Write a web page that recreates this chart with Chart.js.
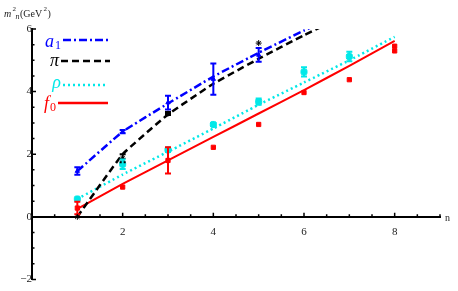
<!DOCTYPE html>
<html>
<head>
<meta charset="utf-8">
<script src="https://cdn.jsdelivr.net/npm/chart.js@4.4.1/dist/chart.umd.min.js"></script>
<style>
  html, body { margin: 0; padding: 0; background: #fff; }
  #wrap { width: 458px; height: 291px; }
</style>
</head>
<body>
<div id="wrap"><canvas id="myChart" width="458" height="291"></canvas></div>
<script>
// curves (theory lines), sampled at n = 1, 2, ...
const lineN = [1, 2, 3, 4, 5, 6, 7, 8];
const a1Line = [1.46, 2.72, 3.62, 4.48, 5.24, 5.95, 6.6];
const piLine = [0, 2.0, 3.27, 4.25, 5.05, 5.8, 6.5];
const rhoLine = [0.57, 1.35, 2.08, 2.82, 3.58, 4.29, 5.0, 5.75];
const f0Line = [0.25, 1.05, 1.8, 2.55, 3.3, 4.05, 4.82, 5.62];

// data points with errors
const a1N = [1, 2, 3, 4, 5];
const a1Y = [1.46, 2.72, 3.65, 4.4, 5.17];
const a1Err = [0.12, 0.05, 0.22, 0.5, 0.22];

const piN = [1, 2, 3, 5];
const piY = [0, 1.87, 3.3, 5.55];
const piErr = [0, 0.13, 0.05, 0];

const rhoN = [1, 2, 3, 4, 5, 6, 7];
const rhoY = [0.57, 1.68, 2.14, 2.95, 3.68, 4.63, 5.12];
const rhoErr = [0, 0.15, 0.07, 0.05, 0.1, 0.15, 0.15];

const f0N = [1, 2, 3, 4, 5, 6, 7, 8, 8];
const f0Y = [0.28, 0.95, 1.8, 2.22, 2.95, 3.97, 4.38, 5.3, 5.45];
const f0Err = [0.2, 0, 0.42, 0, 0, 0, 0, 0, 0];

const yTicks = [-2, 0, 2, 4, 6];
const xTicks = [2, 4, 6, 8];

const BLUE = "#0000ff", BLACK = "#000000", CYAN = "#00e8e8", RED = "#ff0000";

function pts(xs, ys) {
  const out = [];
  for (let i = 0; i < ys.length; i++) out.push({ x: xs[i], y: ys[i] });
  return out;
}

const errorBars = {
  id: "errorBars",
  afterDatasetsDraw(chart) {
    const ctx = chart.ctx, xs = chart.scales.x, ys = chart.scales.y;
    const sets = [[a1N, a1Y, a1Err, BLUE], [piN, piY, piErr, BLACK], [rhoN, rhoY, rhoErr, CYAN], [f0N, f0Y, f0Err, RED]];
    ctx.save();
    ctx.lineWidth = 2;
    sets.forEach(([n, y, e, c]) => {
      ctx.strokeStyle = c;
      for (let i = 0; i < n.length; i++) {
        if (!e[i]) continue;
        const px = xs.getPixelForValue(n[i]);
        const top = ys.getPixelForValue(y[i] + e[i]);
        const bot = ys.getPixelForValue(y[i] - e[i]);
        ctx.beginPath();
        ctx.moveTo(px, top); ctx.lineTo(px, bot);
        ctx.moveTo(px - 3, top); ctx.lineTo(px + 3, top);
        ctx.moveTo(px - 3, bot); ctx.lineTo(px + 3, bot);
        ctx.stroke();
      }
    });
    ctx.restore();
  }
};

const axesDeco = {
  id: "axesDeco",
  afterDraw(chart) {
    const ctx = chart.ctx, xs = chart.scales.x, ys = chart.scales.y;
    const x0 = xs.getPixelForValue(0), y0 = ys.getPixelForValue(0);
    ctx.save();
    ctx.strokeStyle = "#000";
    ctx.lineWidth = 1.5;
    ctx.beginPath();
    for (let v = -2; v <= 6.001; v += 0.5) {
      const p = ys.getPixelForValue(v);
      const len = Math.abs(v % 2) < 0.01 ? 4 : 2.5;
      ctx.moveTo(x0, p); ctx.lineTo(x0 + len, p);
    }
    for (let v = 0.5; v <= 9.001; v += 0.5) {
      const p = xs.getPixelForValue(v);
      const len = Math.abs(v % 2) < 0.01 ? 4 : 2.5;
      ctx.moveTo(p, y0); ctx.lineTo(p, y0 - len);
    }
    ctx.stroke();

    // axis titles
    ctx.fillStyle = "#222";
    ctx.textBaseline = "alphabetic";
    ctx.font = "italic 10px 'Liberation Serif'";
    ctx.fillText("m", 4, 17);
    ctx.font = "7px 'Liberation Serif'";
    ctx.fillText("2", 12.5, 11);
    ctx.font = "italic 8px 'Liberation Serif'";
    ctx.fillText("n", 15.5, 19);
    ctx.font = "10px 'Liberation Serif'";
    ctx.fillText("(GeV", 20, 17);
    ctx.font = "7px 'Liberation Serif'";
    ctx.fillText("2", 43.5, 11);
    ctx.font = "10px 'Liberation Serif'";
    ctx.fillText(")", 47.5, 17);
    ctx.fillText("n", xs.right + 5, y0 + 4);

    // legend
    const items = [
      ["a", "1", BLUE, [8, 3, 2, 3], 40, 63, 110, 47],
      ["\u03c0", "", BLACK, [7, 4], 61, 61, 110, 66],
      ["\u03c1", "", CYAN, [2, 3], 85, 63, 108, 88],
      ["f", "0", RED, [], 103, 58, 108, 109]
    ];
    items.forEach(([t, sub, c, dash, ly, x1, x2, base]) => {
      ctx.fillStyle = c;
      ctx.font = "italic 18px 'Liberation Serif'";
      const w = ctx.measureText(t).width;
      const tx = sub ? x1 - w - 9 : x1 - w - 2;
      ctx.fillText(t, tx, base);
      if (sub) {
        ctx.font = "12px 'Liberation Serif'";
        ctx.fillText(sub, tx + w + 1, base + 2);
      }
      ctx.strokeStyle = c;
      ctx.lineWidth = 2.5;
      ctx.setLineDash(dash);
      ctx.beginPath();
      ctx.moveTo(x1, ly); ctx.lineTo(x2, ly);
      ctx.stroke();
      ctx.setLineDash([]);
    });
    ctx.restore();
  }
};

const lineDs = (label, ys, color, dash, width) => ({
  type: "line", label: label, data: pts(lineN, ys), borderColor: color,
  borderWidth: width, borderDash: dash, pointRadius: 0, fill: false,
  tension: 0.1
});
const ptDs = (label, xs, ys, color, style, r) => ({
  type: "scatter", label: label, data: pts(xs, ys), backgroundColor: color,
  borderColor: color, pointStyle: style, pointRadius: r, borderWidth: 1
});

new Chart(document.getElementById("myChart"), {
  data: {
    datasets: [
      lineDs("a1", a1Line, BLUE, [8, 3, 2, 3], 2.5),
      lineDs("pi", piLine, BLACK, [7, 4], 2.5),
      lineDs("rho", rhoLine, CYAN, [2, 3], 2.5),
      lineDs("f0", f0Line, RED, [], 2),
      ptDs("a1 data", a1N, a1Y, BLUE, "triangle", 2.5),
      ptDs("pi data", piN, piY, BLACK, "star", 3),
      ptDs("rho data", rhoN, rhoY, CYAN, "rectRounded", 3.5),
      ptDs("f0 data", f0N, f0Y, RED, "rect", 3)
    ]
  },
  options: {
    responsive: false,
    animation: false,
    layout: { padding: { left: 32, top: 29, right: 18, bottom: 10 } },
    plugins: { legend: { display: false }, tooltip: { enabled: false } },
    scales: {
      x: {
        type: "linear", min: 0, max: 9,
        position: { y: 0 },
        afterFit: (s) => { s.height = 0; },
        afterBuildTicks: (s) => { s.ticks = xTicks.map(v => ({ value: v })); },
        grid: { display: false, drawTicks: false },
        border: { color: "#000", width: 2 },
        ticks: { padding: 9, color: "#222", font: { family: "Liberation Serif", size: 11 } }
      },
      y: {
        type: "linear", min: -2, max: 6,
        position: { x: 0 },
        afterFit: (s) => { s.width = 0; },
        afterBuildTicks: (s) => { s.ticks = yTicks.map(v => ({ value: v })); },
        grid: { display: false, drawTicks: false },
        border: { color: "#000", width: 2 },
        ticks: { padding: 5, color: "#222", font: { family: "Liberation Serif", size: 11 },
          callback: (v) => (v < 0 ? "\u2212" + Math.abs(v) : v) }
      }
    }
  },
  plugins: [errorBars, axesDeco]
});
</script>
</body>
</html>
